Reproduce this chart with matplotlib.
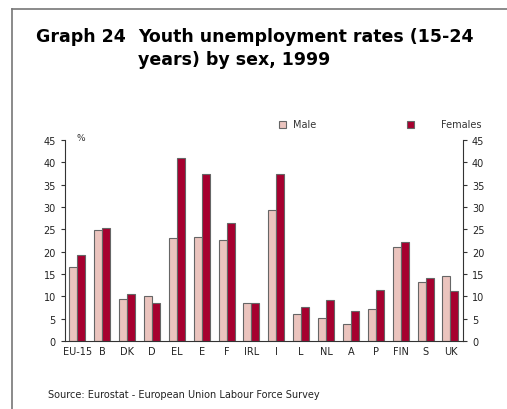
import matplotlib.pyplot as plt
import numpy as np

countries = ['EU-15', 'B', 'DK', 'D', 'EL', 'E', 'F', 'IRL', 'I', 'L',
             'NL', 'A', 'P', 'FIN', 'S', 'UK']
male = [16.6, 24.9, 9.3, 10.0, 23.0, 23.2, 22.5, 8.6, 29.4, 6.1,
        5.1, 3.9, 7.1, 21.1, 13.2, 14.5]
females = [19.2, 25.2, 10.5, 8.5, 41.0, 37.4, 26.4, 8.4, 37.4, 7.5,
           9.1, 6.6, 11.3, 22.2, 14.2, 11.2]
yticks = [0, 5, 10, 15, 20, 25, 30, 35, 40, 45]

male_col = '#ebc4be'
fem_col = '#a6002f'

fig = plt.figure(figsize=(5.07, 4.10), dpi=100)
ax = fig.add_axes([0.128, 0.166, 0.785, 0.49])

x = np.arange(len(countries))
w = 0.32
ax.bar(x - w / 2, male, w, color=male_col, edgecolor='#666666', linewidth=0.8)
ax.bar(x + w / 2, females, w, color=fem_col, edgecolor='#666666', linewidth=0.8)

ax.set_xlim(-0.5, len(countries) - 0.5)
ax.set_ylim(0, 45)
ax.set_yticks(yticks)
ax.set_xticks(x)
ax.set_xticklabels(countries)
ax.tick_params(axis='x', length=0, labelsize=7, pad=4, labelcolor='#222222')
ax.tick_params(axis='y', labelsize=7, length=3, width=0.8, right=True,
               labelright=True, left=True, labelleft=True, color='#333333',
               labelcolor='#222222')
ax.spines['top'].set_visible(False)
for s in ['left', 'right', 'bottom']:
    ax.spines[s].set_color('#333333')
    ax.spines[s].set_linewidth(0.8)

ax.text(0.028, 0.99, '%', transform=ax.transAxes, fontsize=6.5, va='bottom',
        color='#333333')

# frame around the figure
fig.add_artist(plt.Line2D([12 / 507, 12 / 507], [0, 1 - 10 / 410],
                          color='#777777', lw=1.2))
fig.add_artist(plt.Line2D([12 / 507, 1], [1 - 10 / 410, 1 - 10 / 410],
                          color='#777777', lw=1.2))

fig.text(36 / 507, 1 - 42 / 410, 'Graph 24', fontsize=12.5, fontweight='bold')
fig.text(138 / 507, 1 - 42 / 410, 'Youth unemployment rates (15-24',
         fontsize=12.5, fontweight='bold')
fig.text(138 / 507, 1 - 65 / 410, 'years) by sex, 1999',
         fontsize=12.5, fontweight='bold')

# legend
fig.patches.append(plt.Rectangle((279 / 507, 1 - 129 / 410), 7 / 507, 7 / 410,
                                 transform=fig.transFigure, facecolor=male_col,
                                 edgecolor='#666666', lw=0.8))
fig.text(293 / 507, 1 - 125 / 410, 'Male', fontsize=7, va='center',
         color='#333333')
fig.patches.append(plt.Rectangle((407 / 507, 1 - 129 / 410), 7 / 507, 7 / 410,
                                 transform=fig.transFigure, facecolor=fem_col,
                                 edgecolor='#666666', lw=0.8))
fig.text(482 / 507, 1 - 125 / 410, 'Females', fontsize=7, va='center',
         ha='right', color='#333333')

fig.text(48 / 507, 1 - 395 / 410,
         'Source: Eurostat - European Union Labour Force Survey',
         fontsize=7, va='center', color='#222222')

fig.savefig('out.png', dpi=100)
